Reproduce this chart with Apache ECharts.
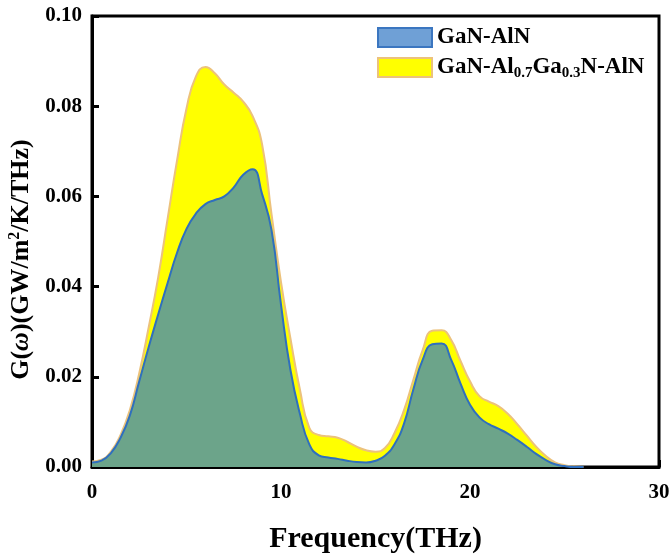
<!DOCTYPE html>
<html>
<head>
<meta charset="utf-8">
<script src="https://cdn.jsdelivr.net/npm/echarts@6/dist/echarts.min.js"></script>
<style>html,body{margin:0;padding:0;background:#fff}#c{width:670px;height:559px}</style>
</head>
<body>
<div id="c"></div>
<script>
// Frequency grid (THz)
const freq = [0,0.5,1,1.5,2,2.5,3,3.5,4,4.5,5,5.5,6,6.5,7,7.5,8,8.5,9,9.5,10,10.5,11,11.5,12,12.5,13,13.5,14,14.5,15,15.5,16,16.5,17,17.5,18,18.5,19,19.5,20,20.5,21,21.5,22,22.5,23,23.5,24,24.5,25,25.5,26];
// GaN-AlN  G(w)
const ganAln = [0.0010,0.0014,0.0031,0.0064,0.0114,0.0190,0.0266,0.0338,0.0408,0.0475,0.0528,0.0562,0.0583,0.0592,0.0600,0.0620,0.0648,0.0660,0.0605,0.0525,0.0360,0.0215,0.0118,0.0050,0.0026,0.0021,0.0018,0.0014,0.0011,0.0010,0.0014,0.0025,0.0050,0.0095,0.0172,0.0238,0.0272,0.0274,0.0238,0.0185,0.0138,0.0110,0.0095,0.0085,0.0074,0.0060,0.0045,0.0029,0.0016,0.0006,0.0002,0.0000,0.0000];
// GaN-Al0.7Ga0.3N-AlN  G(w)
const ganAlganAln = [0.0012,0.0016,0.0034,0.0070,0.0126,0.0208,0.0310,0.0420,0.0550,0.0680,0.0795,0.0866,0.0887,0.0873,0.0848,0.0830,0.0810,0.0778,0.0715,0.0560,0.0410,0.0285,0.0172,0.0087,0.0071,0.0068,0.0065,0.0056,0.0045,0.0037,0.0034,0.0042,0.0075,0.0125,0.0193,0.0260,0.0302,0.0303,0.0282,0.0235,0.0190,0.0157,0.0145,0.0135,0.0118,0.0095,0.0070,0.0045,0.0025,0.0010,0.0004,0.0001,0.0000];
const seriesNames = ['GaN-AlN', 'GaN-Al0.7Ga0.3N-AlN'];
const xTicks = [0, 10, 20, 30];
const yTicks = [0, 0.02, 0.04, 0.06, 0.08, 0.10];

const FONT = '"Liberation Serif", "Times New Roman", serif';
const pair = (xs, ys) => xs.map((x, i) => [x, ys[i]]);

const chart = echarts.init(document.getElementById('c'), null, {renderer: 'canvas'});
chart.setOption({
  animation: false,
  backgroundColor: '#ffffff',
  grid: {left: 92, right: 11, top: 16, bottom: 92, show: true, borderColor: '#000', borderWidth: 3,
    backgroundColor: 'transparent', containLabel: false, outerBoundsMode: 'none'},
  legend: {
    orient: 'vertical', left: 377, top: 26, padding: 0, itemWidth: 54, itemHeight: 19, itemGap: 7,
    icon: 'rect',
    data: [
      {name: seriesNames[0], itemStyle: {color: 'rgb(111,160,214)', borderColor: '#3b76c0', borderWidth: 2}},
      {name: seriesNames[1], itemStyle: {color: '#ffff00', borderColor: '#ecc27c', borderWidth: 2}}
    ],
    formatter: n => n === seriesNames[0] ? '{b|GaN-AlN}' : '{b|GaN-Al}{s|0.7}{b|Ga}{s|0.3}{b|N-AlN}',
    textStyle: {
      rich: {
        b: {fontFamily: FONT, fontWeight: 'bold', fontSize: 23, color: '#000'},
        s: {fontFamily: FONT, fontWeight: 'bold', fontSize: 15, color: '#000', padding: [12, 0, 0, 0]}
      }
    }
  },
  xAxis: {
    type: 'value', min: 0, max: 30, interval: 10,
    name: 'Frequency(THz)', nameLocation: 'middle', nameGap: 57,
    nameTextStyle: {fontFamily: FONT, fontWeight: 'bold', fontSize: 30, color: '#000'},
    axisLine: {lineStyle: {color: '#000', width: 3}},
    axisTick: {inside: true, length: 7, lineStyle: {color: '#000', width: 3}},
    axisLabel: {margin: 15, fontFamily: FONT, fontWeight: 'bold', fontSize: 21, color: '#000',
      formatter: v => xTicks.includes(v) ? String(v) : ''},
    splitLine: {show: false}
  },
  yAxis: {
    type: 'value', min: 0, max: 0.1, interval: 0.02,
    name: '{b|G(}{i|ω}{b|)(GW/m}{sup|2}{b|/K/THz)}', nameLocation: 'middle', nameGap: 51,
    nameTextStyle: {
      padding: [0, 36, 0, 0],
      rich: {
        b: {fontFamily: FONT, fontWeight: 'bold', fontSize: 26, color: '#000'},
        i: {fontFamily: FONT, fontWeight: 'bold', fontStyle: 'italic', fontSize: 26, color: '#000'},
        sup: {fontFamily: FONT, fontWeight: 'bold', fontSize: 16, color: '#000', padding: [0, 0, 12, 0]}
      }
    },
    axisLine: {lineStyle: {color: '#000', width: 3}},
    axisTick: {inside: true, length: 7, lineStyle: {color: '#000', width: 3}},
    axisLabel: {margin: 10, fontFamily: FONT, fontWeight: 'bold', fontSize: 21, color: '#000',
      formatter: v => yTicks.some(t => Math.abs(t - v) < 1e-9) ? v.toFixed(2) : ''},
    splitLine: {show: false}
  },
  series: [
    {
      name: seriesNames[1], type: 'line', smooth: 0.5, showSymbol: false, z: 2,
      data: pair(freq, ganAlganAln),
      lineStyle: {color: '#ecc27c', width: 2},
      itemStyle: {color: '#ffff00'},
      areaStyle: {color: '#ffff00', opacity: 1}
    },
    {
      name: seriesNames[0], type: 'line', smooth: 0.5, showSymbol: false, z: 3,
      data: pair(freq, ganAln),
      lineStyle: {color: '#2f6fbe', width: 2},
      itemStyle: {color: 'rgb(111,160,214)'},
      areaStyle: {color: 'rgb(46,126,197)', opacity: 0.7}
    }
  ]
});
</script>
</body>
</html>
